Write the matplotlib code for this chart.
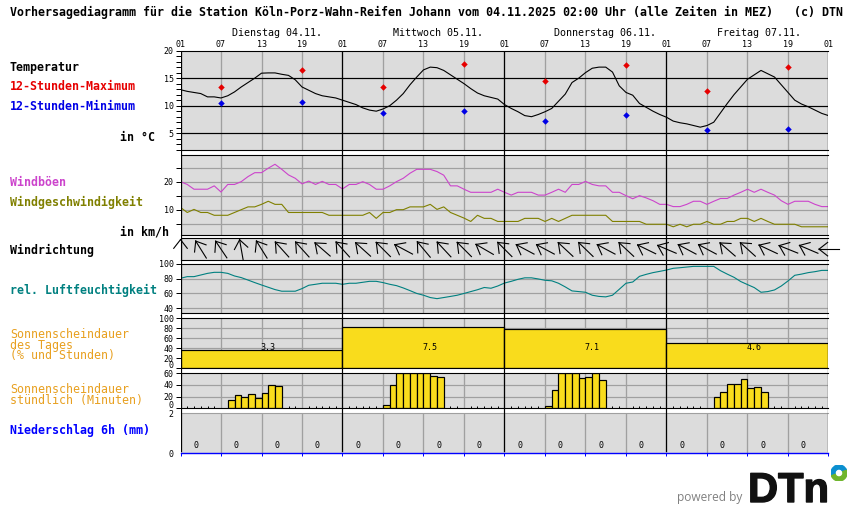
import numpy as np
import matplotlib
matplotlib.use("Agg")
import matplotlib.pyplot as plt
import matplotlib.patheffects as pe
from matplotlib.patches import Wedge

FIG_W, FIG_H = 850, 524
LEFT, RIGHT = 180.5, 828.5

plt.rcParams['font.family'] = ['DejaVu Sans Mono']

BG = '#dcdcdc'
GRID = '#a0a0a0'
PX = 0.72  # one pixel in points at dpi 100

hours = np.arange(97)
day_names = ['Dienstag 04.11.', 'Mittwoch 05.11.', 'Donnerstag 06.11.', 'Freitag 07.11.']
day_name_pos = [7.6, 31.5, 55.4, 79.5]
hour_ticks = np.arange(0, 97, 6)
hour_labels = ['01', '07', '13', '19'] * 4 + ['01']

temperature = [12.9, 12.6, 12.4, 12.2, 11.6, 11.6, 11.4, 11.8, 12.5, 13.4, 14.2, 15.0,
               15.9, 15.95, 15.95, 15.7, 15.5, 14.7, 13.4, 12.8, 12.2, 11.8, 11.6, 11.4,
               11.0, 10.6, 10.2, 9.6, 9.2, 9.0, 9.4, 10.0, 11.0, 12.2, 13.8, 15.2,
               16.5, 17.0, 16.9, 16.4, 15.6, 14.8, 14.0, 13.1, 12.3, 11.8, 11.5, 11.2,
               10.2, 9.5, 8.9, 8.2, 8.0, 8.4, 8.9, 9.5, 10.8, 12.1, 14.2, 15.0,
               16.0, 16.8, 17.0, 17.0, 16.1, 13.6, 12.4, 11.9, 10.4, 9.7, 9.0, 8.4,
               7.9, 7.2, 6.9, 6.7, 6.4, 6.1, 6.4, 7.0, 8.7, 10.4, 12.0, 13.4,
               14.8, 15.6, 16.4, 15.8, 15.2, 13.8, 12.4, 11.0, 10.3, 9.8, 9.2, 8.6, 8.2]
extreme_hours = [6, 18, 30, 42, 54, 66, 78, 90]
temp_max = [13.4, 16.5, 13.4, 17.5, 14.5, 17.35, 12.65, 17.0]
temp_min = [10.5, 10.7, 8.7, 8.95, 7.2, 8.3, 5.6, 5.8]

gusts = [20, 19, 17.3, 17.3, 17.3, 18.5, 16.3, 19, 19, 20, 21.8, 23.2,
         23.2, 24.8, 26.2, 24.4, 22.4, 21.2, 19.2, 20.2, 19, 20.1, 19, 19,
         17.4, 19, 19, 20, 19, 17.3, 17.3, 18.5, 20, 21.2, 23, 24.4,
         24.4, 24.4, 23.6, 22.3, 18.5, 18.5, 17.3, 16.2, 16.2, 16.2, 16.2, 17.3,
         16.2, 15.2, 16.2, 16.2, 16.2, 15.2, 15.2, 16.2, 17.3, 16.2, 19, 19,
         20.1, 19, 18.5, 18.5, 16.2, 16.2, 15, 13.9, 15, 14.2, 13.2, 11.9,
         11.9, 11.1, 11.1, 11.9, 13, 13, 11.9, 13, 14, 14, 15.2, 16.2,
         17.3, 16.2, 17.3, 16.2, 15.2, 13.2, 11.9, 13, 13, 13, 11.9, 11.1, 11.1]
wind_speed = [10.8, 9, 10.1, 9, 9, 8, 8, 8, 9, 10, 11, 11,
              11.9, 13, 11.9, 11.9, 9, 9, 9, 9, 9, 9, 8, 8,
              8, 8, 8, 8, 9, 6.9, 9, 9, 10, 10, 11, 11,
              11, 11.9, 10.1, 11, 9, 8, 7, 5.8, 8, 6.9, 6.9, 5.8,
              5.8, 5.8, 5.8, 6.9, 6.9, 6.9, 5.8, 6.9, 5.8, 6.9, 8, 8,
              8, 8, 8, 8, 5.8, 5.8, 5.8, 5.8, 5.8, 4.8, 4.8, 4.8,
              4.8, 3.9, 4.8, 3.9, 4.8, 4.8, 5.8, 4.8, 4.8, 5.8, 5.8, 6.9,
              6.9, 5.8, 6.9, 5.8, 4.8, 4.8, 4.8, 4.8, 3.9, 3.9, 3.9, 3.9, 3.9]

direction_hours = np.arange(0, 97, 3)
wind_bearing = [0, 328, 326, 350, 328, 318, 318, 311, 318, 312, 315, 298, 320, 317, 315, 300, 315,
                298, 298, 313, 314, 298, 313, 296, 293, 298, 298, 311, 312, 295, 292, 293, 270]

humidity = [80.4, 82.6, 82.6, 84.8, 87, 88.4, 88.4, 87, 83.5, 81.3, 78, 74.6,
            71.4, 68.3, 65.2, 63, 63, 63, 66.5, 71, 72.3, 73.7, 73.7, 73.7,
            72.3, 73.7, 73.7, 75, 76.3, 76.3, 74.6, 72.3, 70.5, 67.4, 63.8, 60,
            57.6, 54.5, 53, 54.5, 56, 57.6, 60, 62.5, 65, 68, 67, 70,
            74, 76.3, 79, 81, 81, 79.5, 77.7, 77, 73.7, 68.8, 63.4, 62.5,
            61.6, 57.6, 56, 55.4, 57.6, 65.6, 73.7, 75.4, 83, 85.7, 88, 89.7,
            91.5, 93.8, 94.6, 95.5, 96.4, 96.4, 96.4, 96.4, 90.6, 86, 81.7, 76,
            71.9, 67.9, 61.6, 62.5, 64.7, 70, 76.8, 84.4, 86, 88, 89.3, 91, 91]

day_start = [0, 24, 48, 72]
sun_percent = [36, 82, 78, 50]
sun_hours = ['3.3', '7.5', '7.1', '4.6']
sun_label_pos = [13, 37, 61, 85]
sun_label_y = 42

sun_minutes = [0, 0, 0, 0, 0, 0, 0, 14, 22, 19, 24, 17, 26, 40, 38, 0, 0, 0, 0, 0, 0, 0, 0, 0,
               0, 0, 0, 0, 0, 0, 5, 40, 60, 60, 60, 60, 60, 55, 53, 0, 0, 0, 0, 0, 0, 0, 0, 0,
               0, 0, 0, 0, 0, 0, 3.4, 31, 60, 60, 60, 51.4, 53, 60, 48.6, 0, 0, 0, 0, 0, 0, 0, 0, 0,
               0, 0, 0, 0, 0, 0, 0, 19, 27.4, 41, 41, 50, 34, 36, 27.4, 0, 0, 0, 0, 0, 0, 0, 0, 0]

precip_pos = np.arange(2.25, 96, 6)
precip = [0] * 16

fig = plt.figure(figsize=(FIG_W / 100, FIG_H / 100), dpi=100, facecolor='white')


def panel(top, bottom, ymin, ymax):
    ax = fig.add_axes([LEFT / FIG_W, 1 - bottom / FIG_H, (RIGHT - LEFT) / FIG_W, (bottom - top) / FIG_H])
    ax.set_facecolor(BG)
    ax.set_xlim(0, 96)
    ax.set_ylim(ymin, ymax)
    ax.set_xticks(hour_ticks)
    ax.tick_params(axis='x', length=0, labelbottom=False)
    ax.grid(True, axis='x', color=GRID, lw=0.95, zorder=0)
    ax.set_axisbelow(True)
    for s in ax.spines.values():
        s.set_linewidth(PX * 1.1)
    ax.spines['left'].set_visible(False)
    ax.spines['right'].set_visible(False)
    ax.tick_params(axis='y', length=3.4, width=PX, pad=1.5, labelsize=6)
    return ax


def ygrid(ax, values, color=GRID):
    ax.hlines(values, 0, 96, color=color, lw=PX * 1.2, zorder=1)


def raised_zero(ax):
    # the 0 sits a bit higher so it stays clear of the label of the next panel
    ax.annotate('0', xy=(0, 0), xycoords=('axes fraction', 'data'), xytext=(-4.9, 1.9),
                textcoords='offset points', ha='right', va='center', fontsize=6, annotation_clip=False)


# temperature
ax = panel(50.6, 150.3, 1.9, 20)
ax.set_yticks([5, 10, 15, 20])
ax.set_yticks(np.arange(2, 20), minor=True)
ax.tick_params(axis='y', which='minor', length=3.4, width=PX)
ygrid(ax, [5, 10, 15], 'black')
ax.plot(hours, temperature, color='black', lw=0.8, zorder=3)
ax.plot(extreme_hours, temp_max, ls='', marker='D', ms=3.3, color='#e60000', mec='none', zorder=4)
ax.plot(extreme_hours, temp_min, ls='', marker='D', ms=3.3, color='#0000e6', mec='none', zorder=4)

# wind
ax = panel(155.3, 235.3, 0.86, 29.4)
ax.set_yticks([5, 10, 15, 20, 25])
ax.set_yticklabels(['', '10', '', '20', ''])
ygrid(ax, [5, 10, 15, 20, 25])
ax.plot(hours, gusts, color='#cc44cc', lw=0.8, zorder=3)
ax.plot(hours, wind_speed, color='#808000', lw=0.8, zorder=3)

# wind direction, y axis in pixels so the arrows keep their shape
ax = panel(238.0, 260.3, -11.15, 11.15)
ax.set_yticks([])
for h, bearing in zip(direction_hours, wind_bearing):
    b = np.radians(bearing)
    ux, uy = np.sin(b), np.cos(b)
    tip = np.array([h + 9.5 * ux / 6.75, 9.5 * uy])
    tail = np.array([h - 10.5 * ux / 6.75, -10.5 * uy])
    ax.plot([tail[0], tip[0]], [tail[1], tip[1]], color='black', lw=0.8, clip_on=False, zorder=3)
    for side in (-1, 1):
        c = b + side * np.radians(38)
        ax.plot([tip[0], tip[0] - 11 * np.sin(c) / 6.75], [tip[1], tip[1] - 11 * np.cos(c)],
                color='black', lw=0.8, clip_on=False, zorder=3)

# humidity
ax = panel(263.7, 313.3, 33.3, 100)
ax.set_yticks([40, 60, 80, 100])
ygrid(ax, [40, 60, 80])
ax.plot(hours, humidity, color='#008080', lw=0.8, zorder=3)

# sunshine per day
ax = panel(318.3, 368.3, 0, 100)
ax.set_yticks([0, 20, 40, 60, 80, 100])
ax.set_yticklabels(['', '20', '40', '60', '80', '100'])
raised_zero(ax)
ygrid(ax, [20, 40, 60, 80])
ax.bar(day_start, sun_percent, width=24, align='edge', color='#f9dc1c', edgecolor='black', lw=PX * 1.2, zorder=2)
for x, label_text in zip(sun_label_pos, sun_hours):
    ax.text(x, sun_label_y, label_text, ha='center', va='center', fontsize=6, zorder=5)

# sunshine per hour
ax = panel(373.3, 408.3, 0, 60)
ax.set_yticks([0, 20, 40, 60])
ax.set_yticklabels(['', '20', '40', '60'])
raised_zero(ax)
ygrid(ax, [20, 40])
ax.set_xticks(hours, minor=True)
ax.tick_params(axis='x', which='minor', direction='in', length=1.8, width=PX, top=False, bottom=True)
sun_minutes = np.array(sun_minutes)
has_sun = sun_minutes > 0
ax.bar(hours[:-1][has_sun], sun_minutes[has_sun], width=1, align='edge',
       color='#f9dc1c', edgecolor='black', lw=PX * 1.2, zorder=2)

# precipitation
ax = panel(413.3, 453.3, 0, 2)
ax.set_yticks([0, 2])
ax.tick_params(axis='y', length=0, pad=5)
ax.spines['top'].set_color(GRID)
ax.spines['bottom'].set_color('#0000ff')
ax.spines['bottom'].set_linewidth(PX * 1.4)
ax.tick_params(axis='x', length=1.8, width=PX, color='#0000ff')
for x, v in zip(precip_pos, precip):
    ax.text(x, 0.4, str(v), ha='center', va='center', fontsize=6)

# frame with the day lines, the hours on top and the day names
frame = fig.add_axes([LEFT / FIG_W, 1 - 451.5 / FIG_H, (RIGHT - LEFT) / FIG_W, (451.5 - 50.6) / FIG_H])
frame.patch.set_alpha(0)
frame.set_xlim(0, 96)
frame.set_ylim(0, 1)
frame.set_yticks([])
for s in frame.spines.values():
    s.set_visible(False)
frame.set_xticks(hour_ticks)
frame.set_xticklabels(hour_labels, fontsize=6)
frame.tick_params(axis='x', length=0, top=True, labeltop=True, bottom=False, labelbottom=False, pad=1)
frame.vlines(day_start + [96], 0, 1, color='black', lw=PX * 1.2)
for x, name in zip(day_name_pos, day_names):
    frame.text(x, 1.044, name, fontsize=7.2, va='center', ha='left')


# texts left of the panels, in pixel positions
def label(x, y, s, color='black', weight='bold', size=8.37):
    fig.text(x / FIG_W, 1 - y / FIG_H, s, color=color, fontsize=size, fontweight=weight, va='center', ha='left',
             linespacing=0.78)


label(10, 12, 'Vorhersagediagramm für die Station Köln-Porz-Wahn-Reifen Johann vom '
              '04.11.2025 02:00 Uhr (alle Zeiten in MEZ)   (c) DTN')
label(10, 67, 'Temperatur')
label(10, 87, '12-Stunden-Maximum', '#e60000')
label(10, 107, '12-Stunden-Minimum', '#0000e6')
label(120, 137, 'in °C')
label(10, 182, 'Windböen', '#cc44cc')
label(10, 202, 'Windgeschwindigkeit', '#808000')
label(120, 232, 'in km/h')
label(10, 250, 'Windrichtung')
label(10, 290, 'rel. Luftfeuchtigkeit', '#008080')
orange = '#e8a020'
label(10, 345, 'Sonnenscheindauer\ndes Tages\n(% und Stunden)', orange, 'normal')
label(10, 395, 'Sonnenscheindauer\nstündlich (Minuten)', orange, 'normal')
label(10, 430, 'Niederschlag 6h (mm)', '#0000ff')

# logo
fig.text(677 / FIG_W, 1 - 497.5 / FIG_H, 'powered by', color='#808080', fontsize=8.6, va='center', ha='left',
         family='Open Sans')
logo = fig.text(748 / FIG_W, 1 - 502 / FIG_H, 'DTn', color='#111111', fontsize=30, fontweight='bold', va='baseline',
                ha='left', family='Liberation Sans')
logo.set_path_effects([pe.withStroke(linewidth=1, foreground='#111111')])
ring = fig.add_axes([831 / FIG_W, 1 - 481 / FIG_H, 16 / FIG_W, 16 / FIG_H])
ring.set_xlim(-1, 1)
ring.set_ylim(-1, 1)
ring.axis('off')
ring.add_patch(Wedge((0, 0), 1, 20, 200, width=0.5, color='#0a8fd0'))
ring.add_patch(Wedge((0, 0), 1, 200, 380, width=0.5, color='#6fb52c'))

fig.savefig('out.png', dpi=100, facecolor='white')
